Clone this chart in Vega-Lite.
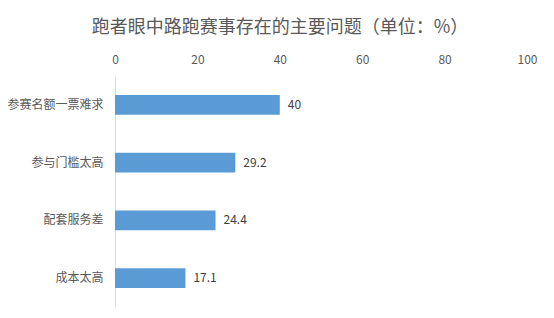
{
  "$schema": "https://vega.github.io/schema/vega-lite/v6.json",
  "width": 412,
  "height": 231,
  "autosize": {"type": "none"},
  "padding": {"left": 115, "top": 76, "right": 27, "bottom": 11},
  "background": "white",
  "title": {
    "text": "跑者眼中路跑赛事存在的主要问题（单位：%）",
    "font": "Noto Sans CJK SC",
    "fontSize": 18,
    "fontWeight": "normal",
    "color": "#595959",
    "anchor": "middle",
    "frame": "bounds",
    "dx": 8,
    "offset": 16
  },
  "config": {
    "view": {"stroke": null},
    "font": "Noto Sans CJK SC"
  },
  "data": {
    "values": [
      {"item": "参赛名额一票难求", "value": 40},
      {"item": "参与门槛太高", "value": 29.2},
      {"item": "配套服务差", "value": 24.4},
      {"item": "成本太高", "value": 17.1}
    ]
  },
  "encoding": {
    "y": {
      "field": "item",
      "type": "nominal",
      "sort": null,
      "scale": {"paddingInner": 0.66, "paddingOuter": 0.33},
      "axis": {
        "title": null,
        "ticks": false,
        "labelPadding": 12,
        "labelFontSize": 12,
        "labelColor": "#595959",
        "domainColor": "#d9d9d9",
        "domainWidth": 1
      }
    },
    "x": {
      "field": "value",
      "type": "quantitative",
      "scale": {"domain": [0, 100], "nice": false},
      "axis": {
        "orient": "top",
        "title": null,
        "values": [0, 20, 40, 60, 80, 100],
        "grid": false,
        "ticks": false,
        "domain": false,
        "labelPadding": 10,
        "labelFontSize": 12,
        "labelColor": "#595959",
        "labelFlush": false
      }
    }
  },
  "layer": [
    {"mark": {"type": "bar", "color": "#5B9BD5"}},
    {
      "mark": {"type": "text", "align": "left", "dx": 8, "fontSize": 12, "color": "#404040"},
      "encoding": {"text": {"field": "value", "type": "quantitative"}}
    }
  ]
}
